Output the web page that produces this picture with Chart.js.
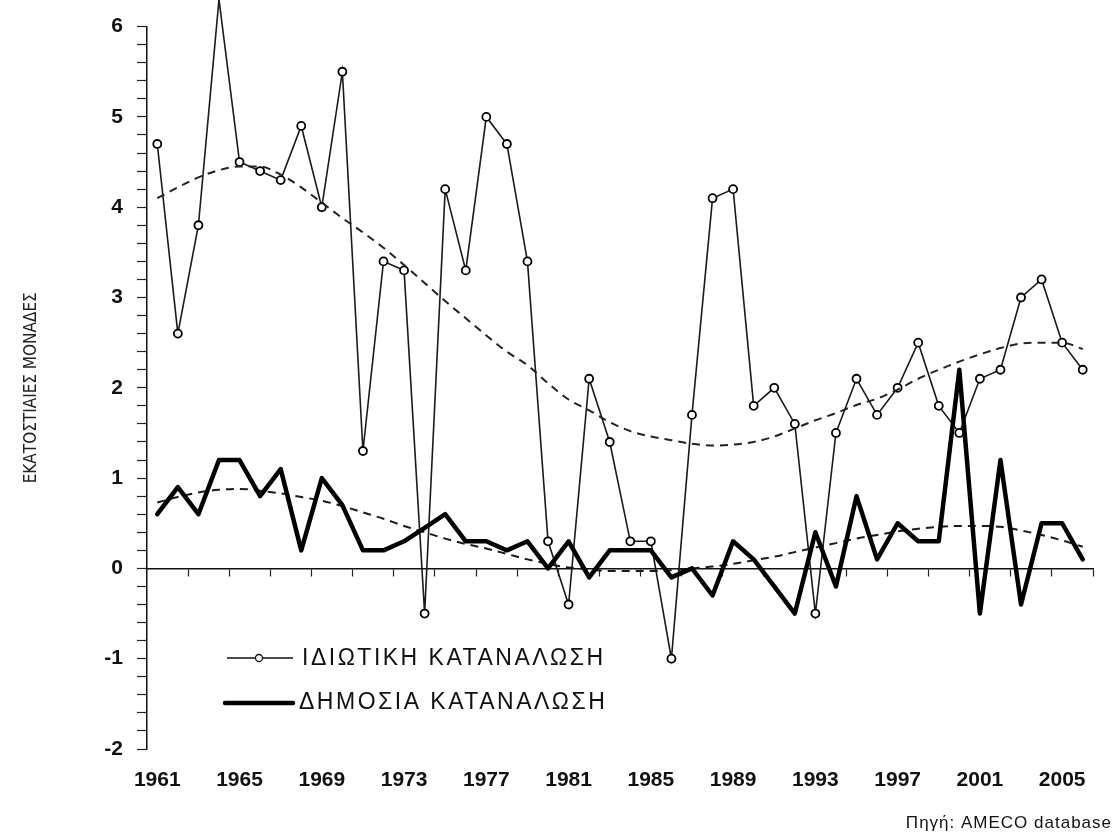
<!DOCTYPE html>
<html>
<head>
<meta charset="utf-8">
<script src="https://cdn.jsdelivr.net/npm/chart.js@4.4.1/dist/chart.umd.min.js"></script>
<style>
  body { margin: 0; background: #fff; }
  canvas { display: block; }
</style>
</head>
<body>
<canvas id="consumption" width="1116" height="838"></canvas>
<script>
// years on the x axis
const years = [1961, 1962, 1963, 1964, 1965, 1966, 1967, 1968, 1969, 1970,
  1971, 1972, 1973, 1974, 1975, 1976, 1977, 1978, 1979, 1980,
  1981, 1982, 1983, 1984, 1985, 1986, 1987, 1988, 1989, 1990,
  1991, 1992, 1993, 1994, 1995, 1996, 1997, 1998, 1999, 2000,
  2001, 2002, 2003, 2004, 2005, 2006];

// ΙΔΙΩΤΙΚΗ ΚΑΤΑΝΑΛΩΣΗ (%)
const privateCons = [4.7, 2.6, 3.8, 6.3, 4.5, 4.4, 4.3, 4.9, 4.0, 5.5,
  1.3, 3.4, 3.3, -0.5, 4.2, 3.3, 5.0, 4.7, 3.4, 0.3,
  -0.4, 2.1, 1.4, 0.3, 0.3, -1.0, 1.7, 4.1, 4.2, 1.8,
  2.0, 1.6, -0.5, 1.5, 2.1, 1.7, 2.0, 2.5, 1.8, 1.5,
  2.1, 2.2, 3.0, 3.2, 2.5, 2.2];

// ΔΗΜΟΣΙΑ ΚΑΤΑΝΑΛΩΣΗ (%)
const publicCons = [0.6, 0.9, 0.6, 1.2, 1.2, 0.8, 1.1, 0.2, 1.0, 0.7,
  0.2, 0.2, 0.3, 0.45, 0.6, 0.3, 0.3, 0.2, 0.3, 0.0,
  0.3, -0.1, 0.2, 0.2, 0.2, -0.1, 0.0, -0.3, 0.3, 0.1,
  -0.2, -0.5, 0.4, -0.2, 0.8, 0.1, 0.5, 0.3, 0.3, 2.2,
  -0.5, 1.2, -0.4, 0.5, 0.5, 0.1];

// dashed trend curves
const privateTrend = [4.10, 4.22, 4.33, 4.41, 4.45, 4.45, 4.36, 4.22, 4.05, 3.88,
  3.72, 3.55, 3.36, 3.16, 2.96, 2.77, 2.58, 2.40, 2.25, 2.05,
  1.87, 1.75, 1.62, 1.52, 1.46, 1.42, 1.38, 1.36, 1.37, 1.40,
  1.46, 1.55, 1.64, 1.72, 1.81, 1.88, 1.98, 2.10, 2.20, 2.29,
  2.37, 2.44, 2.49, 2.50, 2.50, 2.43];

const publicTrend = [0.73, 0.79, 0.84, 0.87, 0.88, 0.86, 0.83, 0.79, 0.75, 0.69,
  0.62, 0.55, 0.47, 0.40, 0.33, 0.27, 0.22, 0.16, 0.10, 0.05,
  0.01, -0.01, -0.03, -0.03, -0.03, -0.02, 0.00, 0.02, 0.05, 0.09,
  0.13, 0.18, 0.23, 0.28, 0.33, 0.37, 0.41, 0.44, 0.46, 0.47,
  0.47, 0.46, 0.42, 0.37, 0.31, 0.24];

// labelled years and the small marks on the zero line
const yearLabels = [1961, 1965, 1969, 1973, 1977, 1981, 1985, 1989, 1993, 1997, 2001, 2005];
const axisMarks = [1962.5, 1964.5, 1966.5, 1968.5, 1970.5, 1972.5, 1974.5, 1976.5,
  1978.5, 1980.5, 1982.5, 1984.5, 1986.5, 1988.5, 1990.5, 1992.5, 1994.5,
  1996.5, 1998.5, 2000.5, 2002.5, 2004.5, 2006.5];

const sans = '"Liberation Sans", Arial, sans-serif';
const toPoints = (vals) => vals.map((v, i) => ({ x: years[i], y: v }));

// legend + source note drawn inside the plot like the original
const legendBox = {
  id: 'legendBox',
  afterDraw(chart) {
    const ctx = chart.ctx;
    ctx.save();
    ctx.strokeStyle = '#111';
    ctx.lineWidth = 1.3;
    ctx.beginPath();
    ctx.moveTo(227, 658);
    ctx.lineTo(293, 658);
    ctx.stroke();
    ctx.beginPath();
    ctx.arc(259, 658, 3.5, 0, Math.PI * 2);
    ctx.fillStyle = '#fff';
    ctx.fill();
    ctx.stroke();

    ctx.strokeStyle = '#000';
    ctx.lineWidth = 4.5;
    ctx.lineCap = 'round';
    ctx.beginPath();
    ctx.moveTo(225, 703);
    ctx.lineTo(293, 703);
    ctx.stroke();

    ctx.fillStyle = '#111';
    ctx.textBaseline = 'middle';
    ctx.font = '23px ' + sans;
    ctx.letterSpacing = '2.5px';
    ctx.fillText('ΙΔΙΩΤΙΚΗ ΚΑΤΑΝΑΛΩΣΗ', 302, 659);
    ctx.fillText('ΔΗΜΟΣΙΑ ΚΑΤΑΝΑΛΩΣΗ', 299, 703);

    ctx.font = '17px ' + sans;
    ctx.letterSpacing = '1px';
    ctx.textAlign = 'right';
    ctx.fillText('Πηγή: AMECO database', 1112, 823);
    ctx.restore();
  }
};

new Chart(document.getElementById('consumption'), {
  type: 'line',
  data: {
    datasets: [
      {
        label: 'ΔΗΜΟΣΙΑ ΚΑΤΑΝΑΛΩΣΗ',
        data: toPoints(publicCons),
        borderColor: '#000',
        borderWidth: 4.5,
        borderJoinStyle: 'round',
        borderCapStyle: 'round',
        pointRadius: 0,
        tension: 0,
      },
      {
        label: 'trend public',
        data: toPoints(publicTrend),
        borderColor: '#1a1a1a',
        borderWidth: 2,
        borderDash: [8, 6],
        pointRadius: 0,
        cubicInterpolationMode: 'monotone',
      },
      {
        label: 'trend private',
        data: toPoints(privateTrend),
        borderColor: '#222',
        borderWidth: 2,
        borderDash: [8, 6],
        pointRadius: 0,
        cubicInterpolationMode: 'monotone',
      },
      {
        label: 'ΙΔΙΩΤΙΚΗ ΚΑΤΑΝΑΛΩΣΗ',
        data: toPoints(privateCons),
        borderColor: '#1a1a1a',
        borderWidth: 1.6,
        pointRadius: 4,
        pointBackgroundColor: '#fff',
        pointBorderColor: '#000',
        pointBorderWidth: 1.8,
        tension: 0,
        clip: false,
      },
    ],
  },
  options: {
    responsive: false,
    animation: false,
    layout: { padding: { top: 20, right: 23, bottom: 43, left: 0 } },
    plugins: {
      legend: { display: false },
      tooltip: { enabled: false },
    },
    scales: {
      x: {
        type: 'linear',
        position: 'bottom',
        min: 1960.5,
        max: 2006.5,
        afterBuildTicks: (s) => { s.ticks = yearLabels.map((v) => ({ value: v })); },
        afterFit: (s) => { s.height = 46; },
        ticks: {
          autoSkip: false,
          maxRotation: 0,
          padding: 19,
          color: '#111',
          font: { size: 21, weight: 'bold', family: sans },
          callback: (v) => String(v),
        },
        grid: { display: false, drawTicks: false },
        border: { display: false },
      },
      x0: {
        type: 'linear',
        position: { y: 0 },
        min: 1960.5,
        max: 2006.5,
        afterBuildTicks: (s) => { s.ticks = axisMarks.map((v) => ({ value: v })); },
        ticks: { display: false },
        grid: { drawOnChartArea: false, tickLength: 7, tickColor: '#222', tickWidth: 1.2 },
        border: { color: '#111', width: 1.5 },
      },
      y: {
        min: -2,
        max: 6,
        afterFit: (s) => { s.width = 147; },
        afterBuildTicks: (s) => {
          const t = [];
          for (let k = 0; k <= 40; k++) t.push({ value: Math.round((-2 + k * 0.2) * 10) / 10 });
          s.ticks = t;
        },
        ticks: {
          autoSkip: false,
          padding: 14,
          color: '#111',
          font: { size: 21, weight: 'bold', family: sans },
          callback: (v) => (Math.abs(v - Math.round(v)) < 1e-6 ? String(Math.round(v)) : ''),
        },
        grid: { drawOnChartArea: false, tickLength: 10, tickColor: '#222', tickWidth: 1.2 },
        border: { color: '#111', width: 1.5 },
        title: {
          display: true,
          text: 'ΕΚΑΤΟΣΤΙΑΙΕΣ ΜΟΝΑΔΕΣ',
          color: '#222',
          font: { size: 17, family: '"Liberation Sans Narrow", "DejaVu Sans Condensed", Arial, sans-serif' },
          padding: { top: 21, bottom: 0 },
        },
      },
    },
  },
  plugins: [legendBox],
});
</script>
</body>
</html>
